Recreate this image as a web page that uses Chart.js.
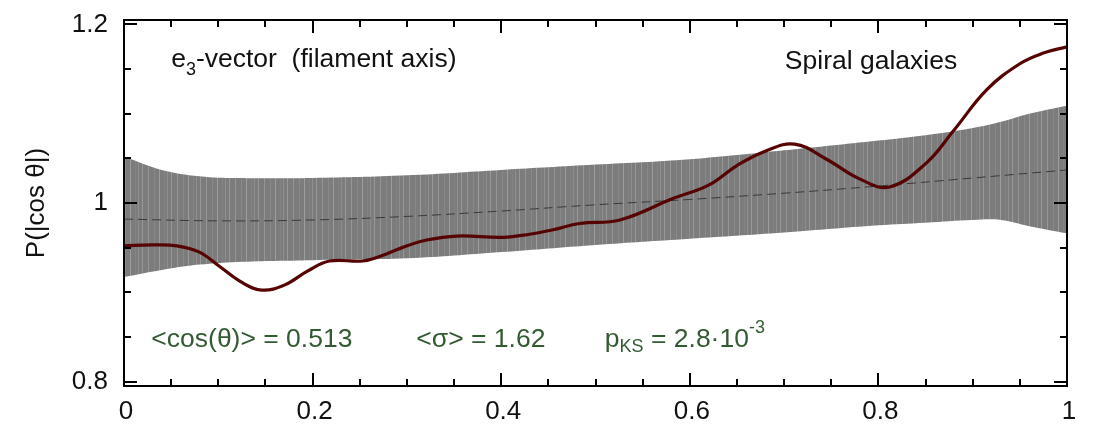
<!DOCTYPE html>
<html>
<head>
<meta charset="utf-8">
<title>P(|cos θ|) – spiral galaxies</title>
<script src="https://cdn.jsdelivr.net/npm/chart.js@4.4.1/dist/chart.umd.min.js"></script>
<style>
  html, body { margin: 0; padding: 0; background: #fff; }
  #wrap { width: 1094px; height: 427px; }
</style>
</head>
<body>
<div id="wrap"><canvas id="alignChart" width="1094" height="427"></canvas></div>
<script>
// measured P(|cos θ|) for spiral galaxies vs. the e3 (filament) axis
const cosX = [0, 0.03, 0.056, 0.08, 0.1, 0.125, 0.146, 0.17, 0.195, 0.218, 0.253, 0.271, 0.295, 0.321, 0.353,
              0.402, 0.43, 0.455, 0.483, 0.526, 0.582, 0.62, 0.65, 0.68, 0.711, 0.745, 0.78, 0.812,
              0.851, 0.879, 0.915, 0.95, 0.975, 1];
const cosP = [0.952, 0.953, 0.952, 0.945, 0.930, 0.911, 0.9025, 0.908, 0.924, 0.935, 0.935, 0.940, 0.950, 0.9585, 0.963,
              0.9616, 0.965, 0.970, 0.977, 0.981, 1.005, 1.020, 1.042, 1.058, 1.066, 1.049, 1.027, 1.018,
              1.045, 1.080, 1.127, 1.156, 1.168, 1.175];

// spread of random orientations: upper / lower envelope and the median
const bandX    = [0, 0.04, 0.08, 0.12, 0.2, 0.3, 0.4, 0.5, 0.6, 0.7, 0.8, 0.85, 0.9, 0.93, 0.96, 1];
const bandHigh = [1.052, 1.037, 1.030, 1.028, 1.028, 1.031, 1.037, 1.043, 1.049, 1.059, 1.070, 1.076, 1.084, 1.091, 1.100, 1.109];
const bandLow  = [0.917, 0.925, 0.931, 0.934, 0.936, 0.938, 0.945, 0.953, 0.960, 0.967, 0.975, 0.978, 0.981, 0.981, 0.974, 0.966];
const medianX  = [0, 0.1, 0.2, 0.3, 0.4, 0.5, 0.6, 0.7, 0.8, 0.9, 1];
const medianP  = [0.982, 0.980, 0.981, 0.985, 0.991, 0.998, 1.004, 1.011, 1.019, 1.028, 1.037];

// axis ticks (labelled ones listed separately)
const xTicks = [0, 0.05, 0.1, 0.15, 0.2, 0.25, 0.3, 0.35, 0.4, 0.45, 0.5, 0.55, 0.6, 0.65, 0.7, 0.75, 0.8, 0.85, 0.9, 0.95, 1];
const xMajor = [0, 0.2, 0.4, 0.6, 0.8, 1];
const yTicks = [0.8, 0.85, 0.9, 0.95, 1, 1.05, 1.1, 1.15, 1.2];
const yMajor = [0.8, 1, 1.2];

const FONT = "'Liberation Sans', Arial, Helvetica, sans-serif";
const GREEN = '#335a33';

const toPts = (xs, ys) => xs.map((x, i) => ({ x: x, y: ys[i] }));

// gray fill with faint vertical streaks
function streakPattern(ctx) {
    const c = document.createElement('canvas');
    c.width = 29; c.height = 4;
    const g = c.getContext('2d');
    g.fillStyle = '#7c7c7c';
    g.fillRect(0, 0, 29, 4);
    [[3, '#959595'], [9, '#888888'], [14, '#9c9c9c'], [19, '#838383'], [22, '#8f8f8f'], [26, '#989898']].forEach(([x, col]) => {
        g.fillStyle = col;
        g.fillRect(x, 0, 1, 4);
    });
    return ctx.createPattern(c, 'repeat');
}

// text pieces: [text, size, dy]
const notes = [
    { x: 0.05, y: 1.152, color: '#111', runs: [['e', 26.5, 0], ['3', 18, 8], ['-vector  (filament axis)', 26.5, 0]] },
    { x: 0.7008, y: 1.150, color: '#111', runs: [['Spiral galaxies', 26.5, 0]] },
    { x: 0.029, y: 0.8387, color: GREEN, runs: [['<cos(θ)> = 0.513', 26.5, 0]] },
    { x: 0.310, y: 0.8387, color: GREEN, runs: [['<σ> = 1.62', 26.5, 0]] },
    { x: 0.5099, y: 0.8387, color: GREEN, runs: [['p', 26.5, 0], ['KS', 18, 5], [' = 2.8·10', 26.5, 0], ['-3', 18, -14]] }
];

const framePlugin = {
    id: 'frame',
    afterDraw(chart) {
        const { ctx, chartArea: a, scales: { x, y } } = chart;
        ctx.save();
        ctx.strokeStyle = '#000';
        ctx.lineWidth = 2;
        ctx.beginPath();
        xTicks.forEach(v => {
            const px = Math.round(x.getPixelForValue(v));
            const len = xMajor.includes(v) ? 13 : 7;
            ctx.moveTo(px, a.bottom); ctx.lineTo(px, a.bottom - len);
            ctx.moveTo(px, a.top); ctx.lineTo(px, a.top + len);
        });
        yTicks.forEach(v => {
            const py = Math.round(y.getPixelForValue(v));
            const len = yMajor.includes(v) ? 13 : 7;
            ctx.moveTo(a.left, py); ctx.lineTo(a.left + len, py);
            ctx.moveTo(a.right, py); ctx.lineTo(a.right - len, py);
        });
        ctx.stroke();
        ctx.strokeRect(a.left, a.top, a.right - a.left, a.bottom - a.top);

        // annotations
        ctx.textAlign = 'left';
        ctx.textBaseline = 'alphabetic';
        notes.forEach(n => {
            let cx = x.getPixelForValue(n.x);
            const by = y.getPixelForValue(n.y);
            ctx.fillStyle = n.color;
            n.runs.forEach(([t, size, dy]) => {
                ctx.font = size + 'px ' + FONT;
                ctx.fillText(t, cx, by + dy);
                cx += ctx.measureText(t).width;
            });
        });

        // y axis title
        ctx.save();
        ctx.translate(a.left - 87, (a.top + a.bottom) / 2);
        ctx.rotate(-Math.PI / 2);
        ctx.textAlign = 'center';
        ctx.textBaseline = 'middle';
        ctx.fillStyle = '#111';
        ctx.font = '26px ' + FONT;
        ctx.fillText('P(|cos θ|)', 0, 0);
        ctx.restore();
        ctx.restore();
    }
};

const canvas = document.getElementById('alignChart');
const fill = streakPattern(canvas.getContext('2d'));

new Chart(canvas, {
    type: 'line',
    data: {
        datasets: [
            { data: toPts(cosX, cosP), borderColor: '#560303', borderWidth: 3.2, tension: 0.4, pointRadius: 0, fill: false },
            { data: toPts(medianX, medianP), borderColor: '#3a3a3a', borderWidth: 1, borderDash: [9, 5], tension: 0.4, pointRadius: 0, fill: false },
            { data: toPts(bandX, bandHigh), borderWidth: 0, borderColor: 'rgba(0,0,0,0)', backgroundColor: fill, fill: '+1', tension: 0.4, pointRadius: 0 },
            { data: toPts(bandX, bandLow), borderWidth: 0, borderColor: 'rgba(0,0,0,0)', fill: false, tension: 0.4, pointRadius: 0 }
        ]
    },
    options: {
        responsive: false,
        animation: false,
        layout: { padding: { top: 20, right: 27, left: 0, bottom: 0 } },
        plugins: { legend: { display: false }, tooltip: { enabled: false } },
        scales: {
            x: {
                type: 'linear', min: 0, max: 1,
                grid: { display: false, drawTicks: false },
                border: { display: false },
                afterBuildTicks: s => { s.ticks = xTicks.map(v => ({ value: v })); },
                afterFit: s => { s.height = 41; s.paddingLeft = 0; s.paddingRight = 0; },
                ticks: {
                    autoSkip: false, maxRotation: 0, padding: 10, labelOffset: 2, color: '#111',
                    font: { family: FONT, size: 26 },
                    callback: v => xMajor.includes(v) ? String(v) : ''
                }
            },
            y: {
                type: 'linear', min: 0.795, max: 1.205,
                grid: { display: false, drawTicks: false },
                border: { display: false },
                afterBuildTicks: s => { s.ticks = yTicks.map(v => ({ value: v })); },
                afterFit: s => { s.width = 124; s.paddingTop = 0; s.paddingBottom = 0; },
                ticks: {
                    autoSkip: false, padding: 16, color: '#111',
                    font: { family: FONT, size: 26 },
                    callback: v => yMajor.includes(v) ? String(v) : ''
                }
            }
        }
    },
    plugins: [framePlugin]
});
</script>
</body>
</html>
